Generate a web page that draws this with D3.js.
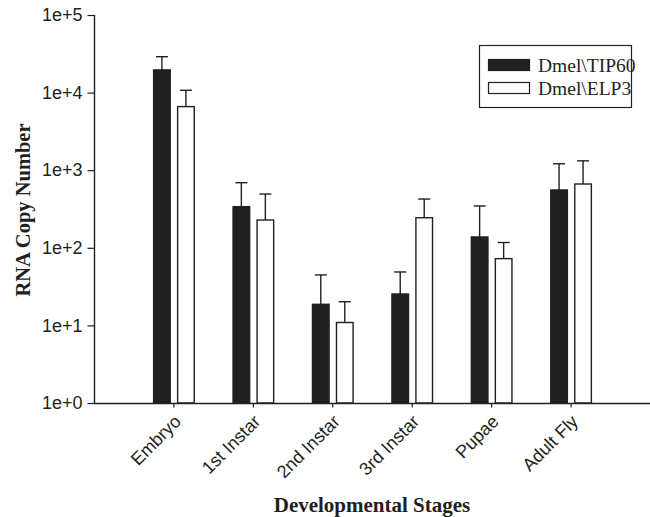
<!DOCTYPE html>
<html lang="en">
<head>
  <meta charset="UTF-8">
  <title>RNA Copy Number</title>
  <style>
    body { margin: 0; background: #fff; }
    .tick text { font-family: Arial, "Liberation Sans", sans-serif; font-size: 18px; fill: #231f20; }
  </style>
</head>
<body>
  <svg id="chart"></svg>
  <script src="https://cdn.jsdelivr.net/npm/d3@7"></script>
  <script>
    var stages = ['Embryo', '1st Instar', '2nd Instar', '3rd Instar', 'Pupae', 'Adult Fly'];
    var seriesNames = ['Dmel\\TIP60', 'Dmel\\ELP3'];
    var tip60 = [19600, 339, 18.7, 25.4, 138, 556];
    var tip60Err = [29000, 690, 44.7, 48.8, 346, 1210];
    var elp3 = [6600, 228, 10.9, 244, 72.5, 664];
    var elp3Err = [10700, 493, 20.2, 425, 117, 1320];
    var yTicks = [1, 10, 100, 1000, 10000, 100000];
    var yTickLabels = ['1e+0', '1e+1', '1e+2', '1e+3', '1e+4', '1e+5'];

    var ink = '#231f20';
    var svg = d3.select('#chart').attr('width', 650).attr('height', 517);

    var x = d3.scaleLinear().domain([0, 7]).range([94, 650]);
    var y = d3.scaleLog().domain([1, 100000]).range([403, 15]);

    // bars: black left of tick, white right of tick
    var series = [
      { vals: tip60, errs: tip60Err, fill: ink, off: -20.5 },
      { vals: elp3, errs: elp3Err, fill: '#fff', off: 3.5 }
    ];
    var barW = 18;

    series.forEach(function (s) {
      var g = svg.append('g');
      g.selectAll('line.err')
        .data(s.vals)
        .enter()
        .append('line')
        .attr('x1', (d, i) => x(i + 1) + s.off + barW / 2)
        .attr('x2', (d, i) => x(i + 1) + s.off + barW / 2)
        .attr('y1', d => y(d))
        .attr('y2', (d, i) => y(s.errs[i]))
        .attr('stroke', ink).attr('stroke-width', 1.4);
      g.selectAll('line.cap')
        .data(s.errs)
        .enter()
        .append('line')
        .attr('x1', (d, i) => x(i + 1) + s.off + barW / 2 - 6)
        .attr('x2', (d, i) => x(i + 1) + s.off + barW / 2 + 6)
        .attr('y1', d => y(d))
        .attr('y2', d => y(d))
        .attr('stroke', ink).attr('stroke-width', 1.4);
      g.selectAll('rect')
        .data(s.vals)
        .enter()
        .append('rect')
        .attr('x', (d, i) => x(i + 1) + s.off + 0.7)
        .attr('y', d => y(d))
        .attr('width', barW - 1.4)
        .attr('height', d => y(1) - y(d))
        .attr('fill', s.fill)
        .attr('stroke', ink).attr('stroke-width', 1.4);
    });

    // axes
    var yAxis = d3.axisLeft(y).tickValues(yTicks)
      .tickFormat((d, i) => yTickLabels[i]).tickSize(7).tickPadding(5);
    var gy = svg.append('g').attr('transform', 'translate(94.5,0)').call(yAxis);
    gy.select('.domain').attr('d', 'M0,' + y(100000) + 'V' + y(1)).attr('stroke', ink).attr('stroke-width', 1.4);
    gy.selectAll('.tick line').attr('stroke', ink).attr('stroke-width', 1.2);

    var xAxis = d3.axisBottom(x).tickValues(d3.range(1, 7))
      .tickFormat(d => stages[d - 1]).tickSize(4).tickPadding(4);
    var gx = svg.append('g').attr('transform', 'translate(0,' + (y(1) + 0.5) + ')').call(xAxis);
    gx.select('.domain').attr('d', 'M94,0H650').attr('stroke', ink).attr('stroke-width', 1.4);
    gx.selectAll('.tick line').attr('stroke', ink).attr('stroke-width', 1.2);
    gx.selectAll('.tick text')
      .attr('text-anchor', 'end')
      .attr('dy', '0.35em')
      .attr('transform', 'translate(-2,9) rotate(-45)');

    // titles
    svg.append('text')
      .attr('transform', 'translate(30,210) rotate(-90)')
      .attr('text-anchor', 'middle')
      .style('font-family', '"Liberation Serif", "Times New Roman", serif')
      .style('font-weight', 'bold').style('font-size', '20.5px').style('fill', ink)
      .text('RNA Copy Number');
    svg.append('text')
      .attr('x', 372).attr('y', 512)
      .attr('text-anchor', 'middle')
      .style('font-family', '"Liberation Serif", "Times New Roman", serif')
      .style('font-weight', 'bold').style('font-size', '21px').style('fill', ink)
      .text('Developmental Stages');

    // legend
    var lg = svg.append('g');
    lg.append('rect').attr('x', 479.5).attr('y', 45.5).attr('width', 152).attr('height', 62)
      .attr('fill', '#fff').attr('stroke', ink).attr('stroke-width', 1.2);
    lg.selectAll('rect.sw')
      .data(series)
      .enter()
      .append('rect')
      .attr('x', 488.5).attr('y', (d, i) => 59.5 + i * 23)
      .attr('width', 41).attr('height', 11)
      .attr('fill', d => d.fill).attr('stroke', ink).attr('stroke-width', 1.2);
    lg.selectAll('text')
      .data(seriesNames)
      .enter()
      .append('text')
      .attr('x', 538).attr('y', (d, i) => 71.5 + i * 23)
      .style('font-family', '"Liberation Serif", "Times New Roman", serif')
      .style('font-size', '19.5px').style('fill', ink)
      .text(d => d);
  </script>
</body>
</html>
